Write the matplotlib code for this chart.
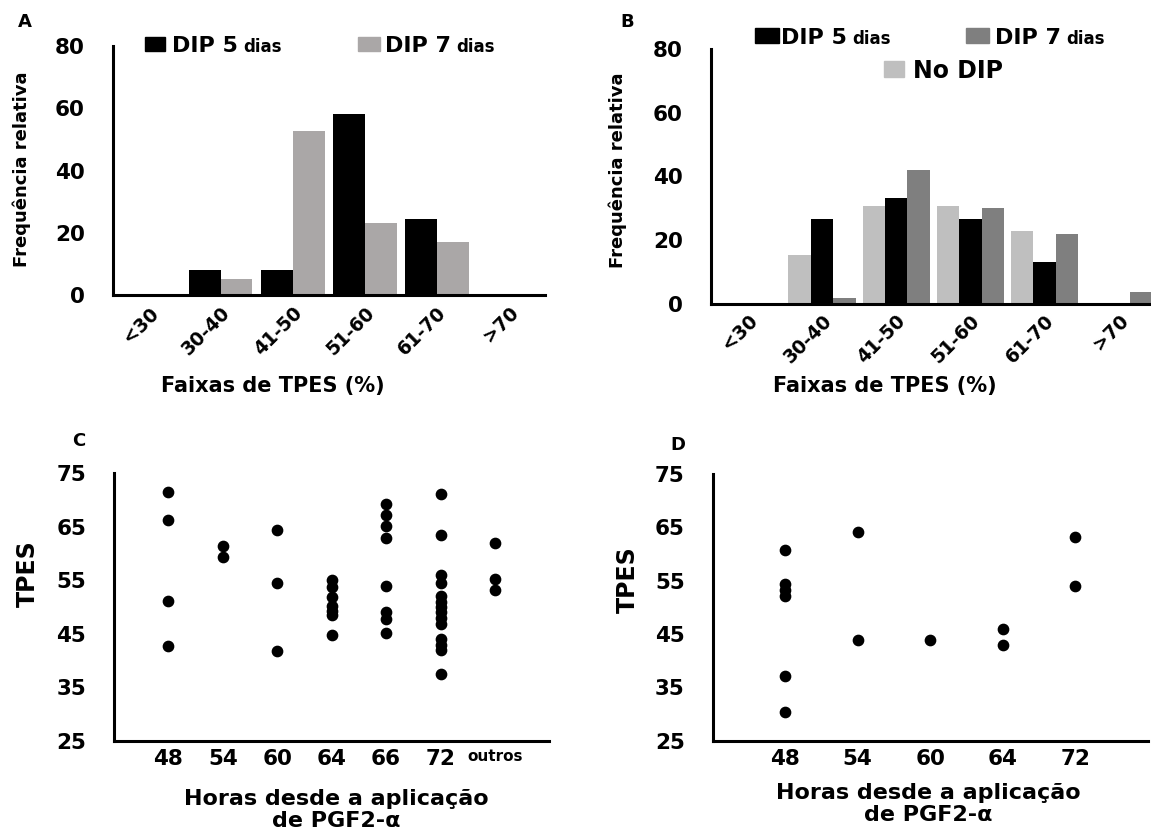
import matplotlib
matplotlib.use("Agg")
import matplotlib.pyplot as plt
import numpy as np
from matplotlib.patches import Rectangle

W, H = 1151, 838

# --- dados ---
faixas = ["<30", "30-40", "41-50", "51-60", "61-70", ">70"]

# painel A: frequencia relativa (%)
a_dip5 = [0, 8.0, 8.0, 58.1, 24.4, 0]
a_dip7 = [0, 5.3, 52.6, 23.0, 17.1, 0]

# painel B
b_nodip = [0, 15.4, 30.6, 30.6, 23.0, 0]
b_dip5 = [0, 26.6, 33.3, 26.6, 13.2, 0]
b_dip7 = [0, 1.8, 42.0, 30.0, 22.0, 3.8]

# painel C: TPES por horas desde PGF2-a
c_horas = ["48", "54", "60", "64", "66", "72", "outros"]
c_48 = [71.4, 66.3, 51.2, 42.8]
c_54 = [61.3, 59.3]
c_60 = [64.3, 54.5, 41.8]
c_64 = [55.0, 53.8, 51.8, 50.2, 49.2, 48.5, 44.8]
c_66 = [69.3, 67.2, 65.1, 62.8, 54.0, 49.0, 47.8, 45.1]
c_72 = [71.0, 63.5, 56.0, 54.4, 52.0, 51.0, 50.0, 49.0, 48.0, 46.8,
        44.0, 43.0, 42.0, 37.5]
c_outros = [62.0, 55.3, 53.1]

# painel D
d_horas = ["48", "54", "60", "64", "72"]
d_48 = [60.8, 54.3, 53.2, 52.2, 37.1, 30.4]
d_54 = [64.1, 43.8]
d_60 = [43.8]
d_64 = [45.9, 42.9]
d_72 = [63.1, 54.0]

plt.rcParams["font.family"] = ["DejaVu Sans"]
plt.rcParams["font.weight"] = "bold"

fig = plt.figure(figsize=(W / 100, H / 100), dpi=100)


def px_axes(l, t, r, b):
    return fig.add_axes([l / W, 1 - b / H, (r - l) / W, (b - t) / H])


def fx(x):
    return x / W


def fy(y):
    return 1 - y / H


def style(ax):
    for s in ["top", "right"]:
        ax.spines[s].set_visible(False)
    for s in ["left", "bottom"]:
        ax.spines[s].set_linewidth(2.2)
    ax.tick_params(length=0, labelsize=15.5)
    ax.tick_params(axis="y", pad=20)


def square(x0, y0, x1, y1, color):
    fig.patches.append(Rectangle((fx(x0), fy(y1)), fx(x1) - fx(x0), fy(y0) - fy(y1),
                                 transform=fig.transFigure, color=color))


def legend_item(x, y, big, small, size=16, small_size=12):
    # "DIP 5" grande e "dias" menor logo a seguir, na mesma linha de base
    t = fig.text(fx(x), fy(y), big, fontsize=size, va="baseline")
    fig.add_artist(plt.Annotation(small, xy=(1, fy(y)), xycoords=(t, "figure fraction"),
                                  xytext=(4, 0), textcoords="offset points",
                                  fontsize=small_size, va="baseline"))


cinza_a = "#aaa7a7"
claro_b = "#bfbfbf"
escuro_b = "#7f7f7f"

# ---------- A ----------
ax = px_axes(112.7, 46, 545, 295)
x = np.arange(len(faixas))
ax.bar(x - 0.22, a_dip5, 0.44, color="black")
ax.bar(x + 0.22, a_dip7, 0.44, color=cinza_a)
ax.set_xlim(-0.5, 5.5)
ax.set_ylim(0, 80)
ax.set_yticks([0, 20, 40, 60, 80])
style(ax)
ax.set_xticks(x)
ax.set_xticklabels(faixas, rotation=45, ha="right", va="top",
                   rotation_mode="anchor", fontsize=13.5)
ax.tick_params(axis="x", pad=6)
fig.text(fx(21.5), fy(169), "Frequência relativa", rotation=90, fontsize=13,
         ha="center", va="center")
fig.text(fx(273), fy(386), "Faixas de TPES (%)", fontsize=15, ha="center", va="center")
fig.text(fx(25), fy(22), "A", fontsize=13, ha="center", va="center")
square(145, 37, 165, 51, "black")
legend_item(171.7, 51.5, "DIP 5", "dias")
square(358, 37, 380, 51, cinza_a)
legend_item(385, 51.5, "DIP 7", "dias")

# ---------- B ----------
ax = px_axes(710.7, 49, 1156, 304)
ax.bar(x - 0.303, b_nodip, 0.303, color=claro_b)
ax.bar(x, b_dip5, 0.303, color="black")
ax.bar(x + 0.303, b_dip7, 0.303, color=escuro_b)
ax.set_xlim(-0.5, 5.5)
ax.set_ylim(0, 80)
ax.set_yticks([0, 20, 40, 60, 80])
style(ax)
ax.set_xticks(x)
ax.set_xticklabels(faixas, rotation=45, ha="right", va="top",
                   rotation_mode="anchor", fontsize=13.5)
ax.tick_params(axis="x", pad=5)
fig.text(fx(618), fy(170), "Frequência relativa", rotation=90, fontsize=13,
         ha="center", va="center")
fig.text(fx(885), fy(386), "Faixas de TPES (%)", fontsize=15, ha="center", va="center")
fig.text(fx(627), fy(22), "B", fontsize=13, ha="center", va="center")
square(755, 28, 778.5, 43, "black")
legend_item(781, 43.5, "DIP 5", "dias")
square(966, 28, 989, 43, escuro_b)
legend_item(995, 43.5, "DIP 7", "dias")
square(883.5, 61, 904, 77, claro_b)
fig.text(fx(913), fy(77.5), "No DIP", fontsize=17, va="baseline")

# ---------- C ----------
ax = px_axes(114, 473, 549.4, 741)
c_grupos = [c_48, c_54, c_60, c_64, c_66, c_72, c_outros]
for i, vals in enumerate(c_grupos):
    ax.scatter(np.full(len(vals), i + 1), vals, s=55, color="black", zorder=3)
ax.set_xlim(0, 8)
ax.set_ylim(25, 75)
ax.set_yticks([25, 35, 45, 55, 65, 75])
style(ax)
ax.set_xticks(np.arange(1, len(c_horas) + 1))
ax.set_xticklabels(c_horas)
ax.get_xticklabels()[-1].set_fontsize(11)
ax.tick_params(axis="x", pad=6)
fig.text(fx(28), fy(574), "TPES", rotation=90, fontsize=17, ha="center", va="center")
fig.text(fx(336), fy(810), "Horas desde a aplicação\nde PGF2-α", fontsize=16,
         ha="center", va="center", linespacing=1.1)
fig.text(fx(79), fy(441), "C", fontsize=13, ha="center", va="center")

# ---------- D ----------
ax = px_axes(712.5, 474, 1148, 740.7)
d_grupos = [d_48, d_54, d_60, d_64, d_72]
for i, vals in enumerate(d_grupos):
    ax.scatter(np.full(len(vals), i + 1), vals, s=55, color="black", zorder=3)
ax.set_xlim(0, 6)
ax.set_ylim(25, 75)
ax.set_yticks([25, 35, 45, 55, 65, 75])
style(ax)
ax.set_xticks(np.arange(1, len(d_horas) + 1))
ax.set_xticklabels(d_horas)
ax.tick_params(axis="x", pad=6)
fig.text(fx(628), fy(580), "TPES", rotation=90, fontsize=17, ha="center", va="center")
fig.text(fx(928), fy(804), "Horas desde a aplicação\nde PGF2-α", fontsize=16,
         ha="center", va="center", linespacing=1.1)
fig.text(fx(678), fy(445), "D", fontsize=13, ha="center", va="center")

fig.savefig("out.png", dpi=100)
